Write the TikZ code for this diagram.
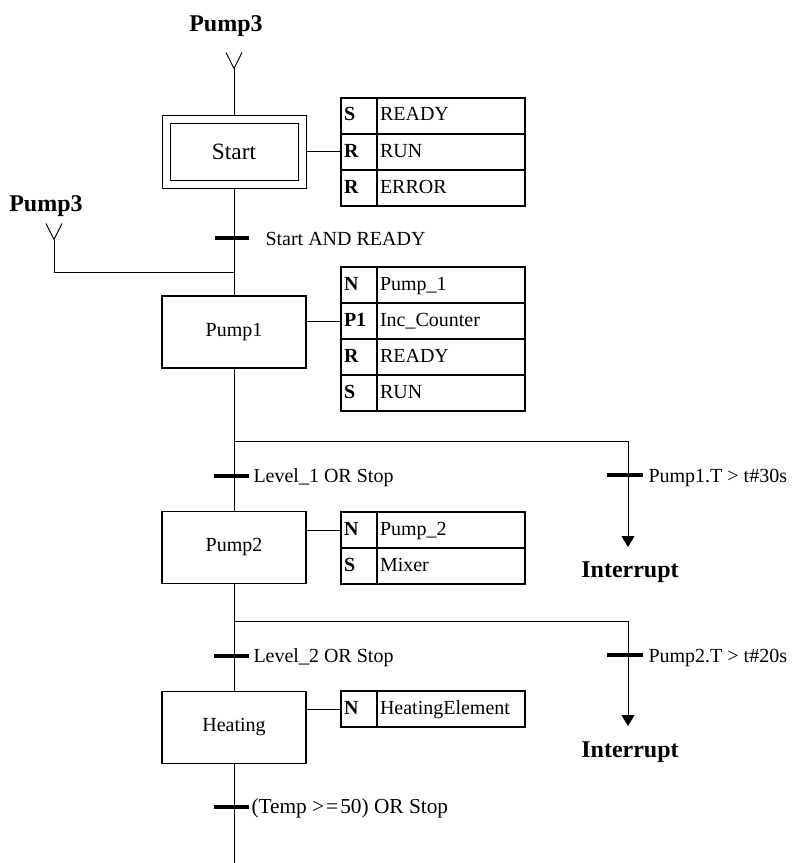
\documentclass[tikz,border=0pt]{standalone}
\usepackage{fontspec}
\setmainfont{Liberation Serif}
\usetikzlibrary{arrows.meta,positioning}

\begin{document}
\begin{tikzpicture}[x=0.75pt,y=-0.75pt,line width=0.75pt,>={Triangle[length=8.25pt,width=9.75pt]},
  stepbox/.style={draw,line width=0.8pt,minimum width=108pt,minimum height=54pt,font=\fontsize{15pt}{18pt}\selectfont},
  initbox/.style={stepbox,double,double distance=5.25pt,line width=0.75pt,minimum width=102pt,minimum height=48pt,outer sep=3.4pt,font=\fontsize{17.5pt}{20pt}\selectfont},
  qual/.style={draw,line width=0.8pt,minimum width=27pt,minimum height=27pt,text width=22.5pt,inner xsep=2.25pt,align=left,text height=10.5pt,text depth=3pt,font=\fontsize{15pt}{18pt}\selectfont\bfseries},
  act/.style={qual,minimum width=111pt,text width=106.5pt,font=\fontsize{15pt}{18pt}\selectfont},
  bar/.style={line width=2.4pt},
  cond/.style={anchor=base west,inner sep=0pt,font=\fontsize{15pt}{18pt}\selectfont},
  jump/.style={anchor=base,inner sep=0pt,font=\fontsize{18pt}{21pt}\selectfont\bfseries},
  vin/.style={{Straight Barb[reversed,length=12pt,width=12pt]}-}]
\useasboundingbox (0,0) rectangle (793,863);
\node[initbox] (start) at (234,152) {Start};
\node[stepbox] (pumpI) at (234,332) {Pump1};
\node[stepbox] (pumpII) at (234,547.5) {Pump2};
\node[stepbox] (heat) at (234,727.5) {Heating};
\node[qual] (sq1) at (359,116) {S};
\node[act] (sa1) at (451,116) {READY};
\node[qual] (sq2) at (359,152) {R};
\node[act] (sa2) at (451,152) {RUN};
\node[qual] (sq3) at (359,188) {R};
\node[act] (sa3) at (451,188) {ERROR};
\node[qual] (pq1) at (359,285) {N};
\node[act] (pa1) at (451,285) {Pump\_1};
\node[qual] (pq2) at (359,321) {P1};
\node[act] (pa2) at (451,321) {Inc\_Counter};
\node[qual] (pq3) at (359,357) {R};
\node[act] (pa3) at (451,357) {READY};
\node[qual] (pq4) at (359,393) {S};
\node[act] (pa4) at (451,393) {RUN};
\node[qual] (mq1) at (359,530) {N};
\node[act] (ma1) at (451,530) {Pump\_2};
\node[qual] (mq2) at (359,566) {S};
\node[act] (ma2) at (451,566) {Mixer};
\node[qual] (hq1) at (359,709) {N};
\node[act] (ha1) at (451,709) {HeatingElement};
\node[jump] (jtop) at (226,32) {Pump3};
\node[jump] (jleft) at (46,211) {Pump3};
\node[jump] (irI) at (630,577) {Interrupt};
\node[jump] (irII) at (630,757) {Interrupt};
\node[cond] (cI) at (265,245) {Start AND READY};
\node[cond] (cII) at (253,482) {Level\_1 OR Stop};
\node[cond] (cIII) at (648,482) {Pump1.T > t\#30s};
\node[cond] (cIV) at (253,662) {Level\_2 OR Stop};
\node[cond] (cV) at (648,662) {Pump2.T > t\#20s};
\node[cond,font=\fontsize{16pt}{19pt}\selectfont] (cVI) at (251,813) {(Temp >\kern1.5pt=\kern1.5pt50) OR Stop};
\coordinate (topin) at (234,52);
\coordinate (leftin) at (54,223);
\coordinate (jn) at (234,272);
\coordinate (brI) at (234,441);
\coordinate (tipI) at (628,547);
\coordinate (brII) at (234,621);
\coordinate (tipII) at (628,726);
\coordinate (bottom) at (234,863);
\draw[vin] (topin) -- (start.north);
\draw[vin] (leftin) |- (jn);
\draw (start.south) -- (pumpI.north);
\draw (pumpI.south) -- (pumpII.north);
\draw (pumpII.south) -- (heat.north);
\draw (heat.south) -- (bottom);
\draw[->] (brI) -| (tipI);
\draw[->] (brII) -| (tipII);
\draw (start.east |- sq2.west) -- (sq2.west);
\draw (pumpI.east |- pq2.west) -- (pq2.west);
\draw (pumpII.east |- mq1.west) -- (mq1.west);
\draw (heat.east |- hq1.west) -- (hq1.west);
\draw[bar] (215,238) -- (249,238);
\draw[bar] (214,476) -- (249,476);
\draw[bar] (214,656) -- (249,656);
\draw[bar] (214,807) -- (249,807);
\draw[bar] (607,475) -- (643,475);
\draw[bar] (607,655) -- (643,655);
\end{tikzpicture}
\end{document}
